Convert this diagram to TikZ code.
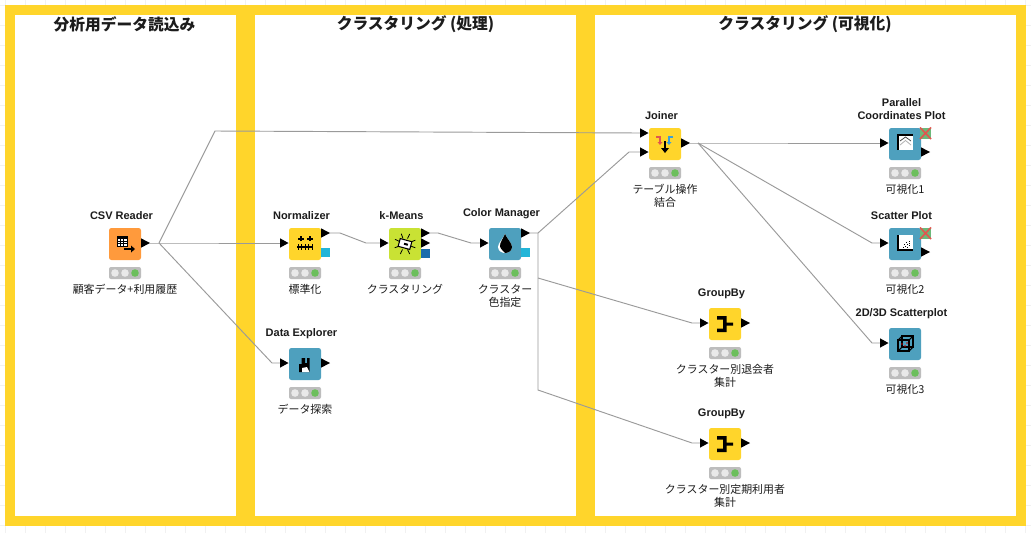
\documentclass[tikz,border=0pt]{standalone}
\usepackage{fontspec}
\setmainfont{Liberation Sans}
\newfontfamily\cjk{Noto Sans CJK JP}
\usetikzlibrary{calc}
\definecolor{kyellow}{HTML}{FFD52B}
\definecolor{korange}{HTML}{FF9A3C}
\definecolor{kteal}{HTML}{4EA0BE}
\definecolor{klime}{HTML}{C9E234}
\definecolor{kcyan}{HTML}{22B5D8}
\definecolor{kblue}{HTML}{1B6CAB}
\definecolor{kgrid}{HTML}{F1F1F1}
\definecolor{kline}{HTML}{9A9A9A}
\definecolor{ktext}{HTML}{1C1C1C}
\definecolor{kgreen}{HTML}{6CBF5C}
\definecolor{kdot}{HTML}{E9E9E9}
\definecolor{kbar}{HTML}{BDBDBD}
\definecolor{kred}{HTML}{E0574F}
\definecolor{kskyb}{HTML}{3C9FD8}
\definecolor{kxbg}{HTML}{6CB97A}
\tikzset{
  x=0.75pt,y=-0.75pt,
  kbox/.style={minimum size=24pt,inner sep=0pt,rounded corners=1.8pt,outer sep=0pt},
  ktitle/.style={font=\bfseries\fontsize{8.25}{9.75}\selectfont,text=ktext,align=center,anchor=south,inner sep=0pt},
  klabel/.style={font=\cjk\fontsize{8.2}{9.75}\selectfont,text=ktext,align=center,anchor=north,inner sep=0pt},
  lane/.style={font=\cjk\bfseries\fontsize{11.8}{14}\selectfont,text=ktext,inner sep=0pt},
  wire/.style={draw=kline,line width=0.7pt},
  frame/.style={fill=kyellow,draw=none},
}
% node body: name, centre x, centre y, colour, title, label
\newcommand{\knode}[6]{%
  \node[kbox,fill=#4] (#1) at (#2,#3) {};
  \node[ktitle] (#1-t) at (#2-3.5,#3-24.5) {#5};
  \fill[rounded corners=1.5pt,fill=kbar] (#2-16,#3+23) rectangle (#2+16,#3+35);
  \fill[kdot] (#2-10,#3+29) circle[radius=3.8];
  \fill[kdot] (#2,#3+29) circle[radius=3.8];
  \fill[kgreen] (#2+10,#3+29) circle[radius=3.8];
  \node[klabel] (#1-l) at (#2,#3+40) {#6};
}
% input port: port name, left-edge x, y
\newcommand{\kin}[3]{%
  \coordinate (#1) at (#2,#3);
  \fill[black] (#2,#3-4.7) -- (#2+8.5,#3) -- (#2,#3+4.7) -- cycle;
}
% output port: port name, box-edge x, y
\newcommand{\kout}[3]{%
  \coordinate (#1) at (#2+9,#3);
  \fill[black] (#2,#3-4.7) -- (#2+9,#3) -- (#2,#3+4.7) -- cycle;
}
\begin{document}
\begin{tikzpicture}
\useasboundingbox (0,0) rectangle (1031,533);
\fill[white] (0,0) rectangle (1031,533);
% background grid
\foreach \gx in {5,25,...,1025} \draw[kgrid,line width=0.7pt] (\gx,0) -- (\gx,533);
\foreach \gy in {5,25,...,525} \draw[kgrid,line width=0.7pt] (0,\gy) -- (1031,\gy);
% yellow frame
\fill[frame] (5,5) rectangle (1026,526);
\fill[white] (15,15) rectangle (236,516);
\fill[white] (255,15) rectangle (576,516);
\fill[white] (595,15) rectangle (1016,516);
\node[lane] (lane1) at (124.5,24) {分析用データ読込み};
\node[lane] (lane2) at (415.5,24.5) {クラスタリング (処理)};
\node[lane] (lane3) at (805,24.5) {クラスタリング (可視化)};

% nodes
\knode{csv}{125}{244}{korange}{CSV Reader}{顧客データ+利用履歴}
\knode{norm}{305}{244}{kyellow}{Normalizer}{標準化}
\knode{kmeans}{405}{244}{klime}{k-Means}{クラスタリング}
\knode{color}{505}{244}{kteal}{Color Manager}{クラスター\\色指定}
\knode{explore}{305}{364}{kteal}{Data Explorer}{データ探索}
\knode{joiner}{665}{144}{kyellow}{Joiner}{テーブル操作\\結合}
\knode{group1}{725}{324}{kyellow}{GroupBy}{クラスター別退会者\\集計}
\knode{group2}{725}{444}{kyellow}{GroupBy}{クラスター別定期利用者\\集計}
\knode{para}{905}{144}{kteal}{Parallel\\Coordinates Plot}{可視化1}
\knode{scatter}{905}{244}{kteal}{Scatter Plot}{可視化2}
\knode{plot3d}{905}{344}{kteal}{2D/3D Scatterplot}{可視化3}

% ports
\kout{csv-o}{141}{243}
\kin{norm-i}{280}{243}
\kout{norm-o}{321}{233}
\fill[kcyan] (321,248) rectangle (330,257);
\kin{kmeans-i}{380}{243}
\kout{kmeans-o}{421}{233}
\kout{kmeans-o2}{421}{243}
\fill[kblue] (421,249) rectangle (430,258);
\kin{color-i}{480}{243}
\kout{color-o}{521}{233}
\fill[kcyan] (521,248) rectangle (530,257);
\kin{explore-i}{280}{363}
\kout{explore-o}{321}{363}
\kin{joiner-i1}{640}{133}
\kin{joiner-i2}{640}{152}
\kout{joiner-o}{681}{143}
\kin{group1-i}{700}{323}
\kout{group1-o}{741}{323}
\kin{group2-i}{700}{443}
\kout{group2-o}{741}{443}
\kin{para-i}{880}{143}
\kout{para-o}{921}{152}
\kin{scatter-i}{880}{243}
\kout{scatter-o}{921}{252}
\kin{plot3d-i}{880}{343}

% knots
\coordinate (k1) at (159,243);
\coordinate (k2) at (215,131);
\coordinate (k3) at (272,363);
\coordinate (k4) at (538,233);
\coordinate (k5) at (538,278);
\coordinate (k6) at (538,390);
\coordinate (k7) at (698,143);
\coordinate (n1) at (340,233);
\coordinate (n2) at (366,243);
\coordinate (m1) at (438,233);
\coordinate (m2) at (471,243);
\coordinate (c1) at (629,152);
\coordinate (g1) at (692,323);
\coordinate (g2) at (692,443);
\coordinate (s1) at (872,243);
\coordinate (s2) at (872,343);

% connectors
\draw[wire] (csv-o) -- (k1) -- (norm-i);
\draw[wire] (k1) -- (k2) -- (joiner-i1);
\draw[wire] (k1) -- (k3) -- (explore-i);
\draw[wire] (norm-o) -- (n1) -- (n2) -- (kmeans-i);
\draw[wire] (kmeans-o) -- (m1) -- (m2) -- (color-i);
\draw[wire] (color-o) -- (k4) -- (c1) -- (joiner-i2);
\draw[wire] (k4) -- (k6) -- (g2) -- (group2-i);
\draw[wire] (k5) -- (g1) -- (group1-i);
\draw[wire] (joiner-o) -- (k7) -- (para-i);
\draw[wire] (k7) -- (s1) -- (scatter-i);
\draw[wire] (k7) -- (s2) -- (plot3d-i);

% icons: CSV Reader
\begin{scope}[shift={(125,244)}]
  \draw[black,line width=0.7pt,fill=white] (-8,-8) rectangle (2,2);
  \fill[black] (-8,-8) rectangle (2,-5.5);
  \draw[black,line width=0.5pt] (-4.7,-6) -- (-4.7,2) (-1.3,-6) -- (-1.3,2) (-8,-2.7) -- (2,-2.7) (-8,-0.2) -- (2,-0.2);
  \draw[black,line width=1pt] (-1,5) -- (7,5);
  \fill[black] (6,1.5) -- (10,5) -- (6,8.5) -- cycle;
\end{scope}
% Normalizer
\begin{scope}[shift={(305,244)}]
  \draw[black,line width=0.8pt] (-8,3) -- (8,3);
  \foreach \tx in {-7,-3.5,0,3.5,7} \draw[black,line width=0.6pt] (\tx,0) -- (\tx,6);
  \draw[black,line width=0.8pt] (-4,-3) -- (-4,-8) (5,-3) -- (5,-8);
  \draw[black,line width=0.8pt] (-7,-5) -- (-1,-5) (2,-5) -- (8,-5);
\end{scope}
% k-Means
\begin{scope}[shift={(405,244)}]
  \foreach \a in {20,65,115,160,205,250,295,340}
    \draw[black,line width=0.6pt] (\a:6) -- (\a:11);
  \draw[black,fill=white,line width=0.8pt,rotate=-15] (-6,-4) rectangle (6,4);
  \fill[black,rotate=-15] (-1,-1) rectangle (3,1);
\end{scope}
% Color Manager
\begin{scope}[shift={(505,244)}]
  \fill[white] (0,-10) .. controls (-2,-5) and (-7,-1) .. (-7,3) .. controls (-7,7) and (-3,9) .. (0,9) .. controls (3,9) and (7,7) .. (7,3) .. controls (7,-1) and (2,-5) .. (0,-10) -- cycle;
  \fill[black] (0,-10) .. controls (2,-5) and (7,-1) .. (7,3) .. controls (7,7) and (3,9) .. (0,9) .. controls (-2,7) and (-5,4) .. (-5,2) .. controls (-5,-2) and (-2,-5) .. (0,-10) -- cycle;
\end{scope}
% Data Explorer
\begin{scope}[shift={(305,364)}]
  \fill[black] (-6,8) -- (-6,0) -- (-3.5,0) -- (-3.5,-6) -- (0,-6) -- (0,-1) -- (2,-1) -- (2,-6) -- (4.5,-6) -- (4.5,8) -- cycle;
  \fill[white] (-3,8) -- (-3,4) -- (2,3) -- (4.5,8) -- cycle;
\end{scope}
% Joiner
\begin{scope}[shift={(665,144)}]
  \draw[kred,line width=1pt] (-9,-7) -- (-5,-7) -- (-5,-1);
  \fill[kred] (-7.5,-2) -- (-5,1) -- (-2.5,-2) -- cycle;
  \draw[kskyb,line width=1pt] (8,-7) -- (4,-7) -- (4,-1);
  \fill[kskyb] (1.5,-2) -- (4,1) -- (6.5,-2) -- cycle;
  \draw[black,line width=1.2pt] (0,-3) -- (0,5);
  \fill[black] (-4,4) -- (0,9) -- (4,4) -- cycle;
\end{scope}
% GroupBy
\begin{scope}[shift={(725,324)}]
  \fill[black] (-8,-8) -- (1.5,-8) -- (1.5,-1.5) -- (8,-1.5) -- (8,1.5) -- (1.5,1.5) -- (1.5,8) -- (-8,8) -- (-8,4.5) -- (-2,4.5) -- (-2,-4.5) -- (-8,-4.5) -- cycle;
\end{scope}
\begin{scope}[shift={(725,444)}]
  \fill[black] (-8,-8) -- (1.5,-8) -- (1.5,-1.5) -- (8,-1.5) -- (8,1.5) -- (1.5,1.5) -- (1.5,8) -- (-8,8) -- (-8,4.5) -- (-2,4.5) -- (-2,-4.5) -- (-8,-4.5) -- cycle;
\end{scope}
% Parallel Coordinates
\begin{scope}[shift={(905,144)}]
  \fill[white] (-7,-9) rectangle (8,6);
  \draw[black,line width=0.8pt] (-7,6) -- (-7,-9) -- (8,-9);
  \draw[black!70,line width=0.6pt] (-5,-3) -- (0.5,-7) -- (6,-3);
  \draw[black!30,line width=0.6pt] (-5,1) -- (0.5,-3.5) -- (6,1);
\end{scope}
\begin{scope}[shift={(925,133)}]
  \fill[kxbg] (-5,-5) rectangle (6,6);
  \draw[kred,line width=1.2pt] (-5,-5.5) -- (6,6) (-5,6) -- (6,-5.5);
\end{scope}
% Scatter Plot
\begin{scope}[shift={(905,244)}]
  \fill[white] (-7,-9) rectangle (8,6);
  \draw[black,line width=0.8pt] (-7,-9) -- (-7,6) -- (8,6);
  \foreach \px/\py in {4/-3,1/-2,4/-1,-1/0,2/0,4/1,0/2,-2/3,2/3}
    \fill[black] (\px-0.5,\py-0.5) rectangle (\px+0.6,\py+0.6);
\end{scope}
\begin{scope}[shift={(925,233)}]
  \fill[kxbg] (-5,-5) rectangle (6,6);
  \draw[kred,line width=1.2pt] (-5,-5.5) -- (6,6) (-5,6) -- (6,-5.5);
\end{scope}
% 3D scatter
\begin{scope}[shift={(905,344)}]
  \draw[black,line width=0.8pt] (-7,-4) rectangle (4,7);
  \draw[black,line width=0.8pt] (-3,-8) rectangle (8,3);
  \draw[black,line width=0.8pt] (-7,-4) -- (-3,-8) (4,-4) -- (8,-8) (-7,7) -- (-3,3) (4,7) -- (8,3);
  \fill[red!80!black] (-3,0) circle[radius=0.8] (2,-1) circle[radius=0.8] (0,2) circle[radius=0.8];
\end{scope}
\end{tikzpicture}
\end{document}
